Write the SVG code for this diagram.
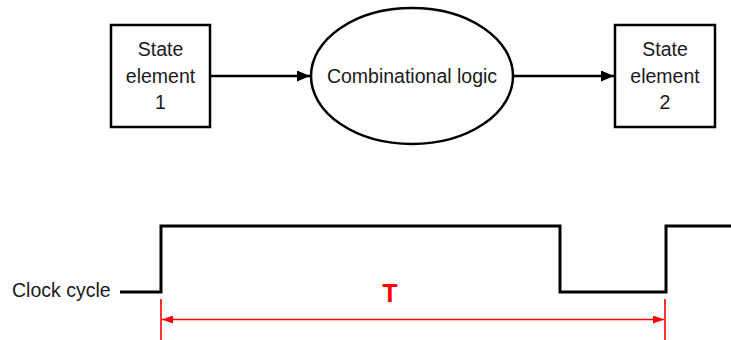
<svg xmlns="http://www.w3.org/2000/svg" width="731" height="340" viewBox="0 0 731 340">
  <style>
    .box { fill: #ffffff; stroke: #000000; stroke-width: 2.5; }
    .lbl { font-family: "Liberation Sans", Arial, sans-serif; font-size: 19.5px; fill: #1a1a1a; text-anchor: middle; }
    .wire { fill: none; stroke: #000000; stroke-width: 2.5; }
    .clk { fill: none; stroke: #000000; stroke-width: 3; stroke-linejoin: miter; }
    .red { stroke: #ff0000; stroke-width: 1.6; fill: none; }
  </style>
  <defs>
    <marker id="arrow" viewBox="0 0 13 11" refX="13" refY="5.5" markerWidth="13" markerHeight="11" markerUnits="userSpaceOnUse" orient="auto">
      <path d="M0,0 L13,5.5 L0,11 Z" fill="#000000"/>
    </marker>
    <marker id="redArrow" viewBox="0 0 11 8" refX="11" refY="4" markerWidth="11" markerHeight="8" markerUnits="userSpaceOnUse" orient="auto-start-reverse">
      <path d="M0,0 L11,4 L0,8 Z" fill="#ff0000"/>
    </marker>
  </defs>

  <rect width="731" height="340" fill="#ffffff"/>

  <!-- connectors -->
  <g id="connectors">
    <line class="wire" x1="211" y1="76" x2="310" y2="76" marker-end="url(#arrow)"/>
    <line class="wire" x1="513" y1="76" x2="614" y2="76" marker-end="url(#arrow)"/>
  </g>

  <g id="state1">
    <rect class="box" x="111" y="25" width="99" height="102"/>
    <text class="lbl" x="160.5" y="56">State</text>
    <text class="lbl" x="160.5" y="83">element</text>
    <text class="lbl" x="160.5" y="109">1</text>
  </g>

  <g id="logic">
    <ellipse class="box" cx="412" cy="76" rx="101" ry="68"/>
    <text class="lbl" x="412" y="83">Combinational logic</text>
  </g>

  <g id="state2">
    <rect class="box" x="615" y="25" width="100" height="102"/>
    <text class="lbl" x="665" y="56">State</text>
    <text class="lbl" x="665" y="83">element</text>
    <text class="lbl" x="665" y="109">2</text>
  </g>

  <!-- clock waveform -->
  <g id="clock">
    <text class="lbl" x="12" y="297" style="text-anchor:start">Clock cycle</text>
    <polyline class="clk" points="120,292 161,292 161,226 560,226 560,292 666,292 666,226 731,226"/>
  </g>

  <!-- period marker -->
  <g id="period">
    <line class="red" x1="161" y1="299" x2="161" y2="340"/>
    <line class="red" x1="665" y1="299" x2="665" y2="340"/>
    <line class="red" x1="162" y1="319.5" x2="664" y2="319.5" marker-start="url(#redArrow)" marker-end="url(#redArrow)"/>
    <text x="390" y="302" font-family="Liberation Sans, Arial, sans-serif" font-size="25" font-weight="bold" fill="#ff0000" text-anchor="middle">T</text>
  </g>
</svg>
